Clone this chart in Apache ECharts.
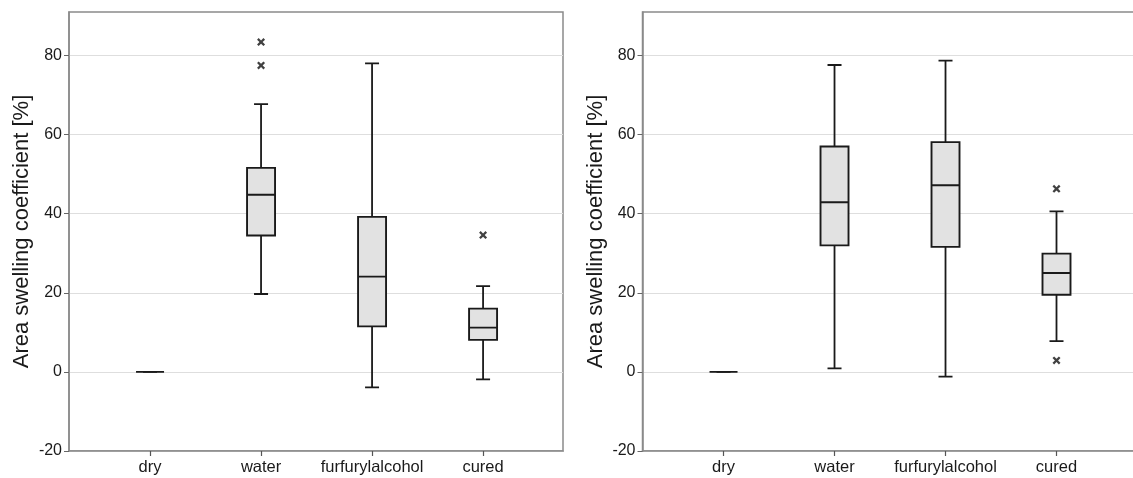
<!DOCTYPE html>
<html>
<head>
<meta charset="utf-8">
<script src="https://cdn.jsdelivr.net/npm/echarts@6/dist/echarts.min.js"></script>
<style>
html,body{margin:0;padding:0;background:#fff;overflow:hidden;}
#chart{width:1133px;height:478px;}
</style>
</head>
<body>
<div id="chart"></div>
<script>
// ---- data ----
const categories = ['dry', 'water', 'furfurylalcohol', 'cured'];
const yTicks = [-20, 0, 20, 40, 60, 80];
const yTitle = 'Area swelling coefficient [%]';

// left panel
const leftLow    = [0, 19.7, -3.9, -1.9];
const leftQ1     = [0, 34.5, 11.5, 8.1];
const leftMedian = [0, 44.8, 24.1, 11.2];
const leftQ3     = [0, 51.6, 39.2, 16.0];
const leftHigh   = [0, 67.7, 78.0, 21.7];
const leftOutlierCat = [1, 1, 3];
const leftOutlierVal = [83.4, 77.5, 34.6];

// right panel
const rightLow    = [0, 0.9, -1.2, 7.8];
const rightQ1     = [0, 32.0, 31.6, 19.5];
const rightMedian = [0, 42.9, 47.2, 25.0];
const rightQ3     = [0, 57.0, 58.1, 29.9];
const rightHigh   = [0, 77.6, 78.7, 40.6];
const rightOutlierCat = [3, 3];
const rightOutlierVal = [46.3, 2.9];

// ---- chart ----
const FONT = '"Liberation Sans", Arial, sans-serif';
const TEXT = '#1a1a1a';
const AXIS = '#8a8a8a';
const catIdx = categories.map((c, i) => i);
const xShape = 'path://M0,2 L2,0 L5,3 L8,0 L10,2 L7,5 L10,8 L8,10 L5,7 L2,10 L0,8 L3,5 Z';

function boxData(q1, med, q3) {
  return catIdx.map(i => [i, q1[i], q1[i], med[i], q3[i], q3[i]]);
}
function whiskerData(low, med, high) {
  return catIdx.map(i => [i, low[i], med[i], med[i], med[i], high[i]]);
}
function outlierData(cats, vals) {
  return cats.map((c, i) => [c, vals[i]]);
}

function mainX(gridIndex, max) {
  return {
    type: 'value', gridIndex, min: -0.73, max: max,
    splitLine: {show: false},
    axisLine: {show: true, onZero: false, lineStyle: {color: AXIS, width: 1.5}},
    axisTick: {show: true, customValues: catIdx, length: 5, lineStyle: {color: '#555', width: 1.2}},
    axisLabel: {customValues: catIdx, formatter: v => categories[Math.round(v)], fontSize: 16.5,
      fontFamily: FONT, color: TEXT, margin: 8}
  };
}
function hiddenX(gridIndex, max) {
  return {type: 'value', gridIndex, min: -0.73, max: max, show: false, splitLine: {show: false},
    axisLine: {onZero: false}};
}
function yAx(gridIndex) {
  return {
    type: 'value', gridIndex, min: -20, max: 91, interval: 20,
    axisLine: {show: true, onZero: false, lineStyle: {color: AXIS, width: 1.5}},
    axisTick: {show: true, customValues: yTicks, length: 5, lineStyle: {color: '#666', width: 1}},
    axisLabel: {customValues: yTicks, fontSize: 16, fontFamily: FONT, color: TEXT, margin: 7},
    splitLine: {show: true, lineStyle: {color: '#dedede', width: 1}},
    name: yTitle, nameLocation: 'middle', nameGap: 36,
    nameTextStyle: {fontSize: 22, fontFamily: FONT, color: TEXT}
  };
}

const boxStyle = {color: '#e2e2e2', borderColor: '#1a1a1a', borderWidth: 1.9};
function panelSeries(xMain, xHidden, yIdx, low, q1, med, q3, high, oc, ov) {
  return [
    {type: 'boxplot', xAxisIndex: xHidden, yAxisIndex: yIdx, z: 1, boxWidth: [14, 14],
      itemStyle: {color: '#ffffff', borderColor: '#1a1a1a', borderWidth: 1.8},
      emphasis: {disabled: true}, data: whiskerData(low, med, high)},
    {type: 'boxplot', xAxisIndex: xMain, yAxisIndex: yIdx, z: 3, boxWidth: [28, 28],
      itemStyle: boxStyle, emphasis: {disabled: true}, data: boxData(q1, med, q3)},
    {type: 'scatter', xAxisIndex: xMain, yAxisIndex: yIdx, z: 4, symbol: xShape, symbolSize: 8,
      itemStyle: {color: '#111'}, data: outlierData(oc, ov)}
  ];
}

// same x scale in both panels (~111 px per category); the right panel runs past the canvas edge
const leftMax = 3.72;
const rightMax = 3.955;

const chart = echarts.init(document.getElementById('chart'), null, {renderer: 'canvas'});
chart.setOption({
  animation: false,
  backgroundColor: '#ffffff',
  textStyle: {fontFamily: FONT},
  grid: [
    {left: 69, top: 12, width: 494, height: 439, show: true, borderColor: AXIS, borderWidth: 1.5,
      backgroundColor: 'transparent', outerBoundsMode: 'none', containLabel: false},
    {left: 642.5, top: 12, width: 520, height: 439, show: true, borderColor: AXIS, borderWidth: 1.5,
      backgroundColor: 'transparent', outerBoundsMode: 'none', containLabel: false}
  ],
  xAxis: [mainX(0, leftMax), hiddenX(0, leftMax), mainX(1, rightMax), hiddenX(1, rightMax)],
  yAxis: [yAx(0), yAx(1)],
  series: [
    ...panelSeries(0, 1, 0, leftLow, leftQ1, leftMedian, leftQ3, leftHigh, leftOutlierCat, leftOutlierVal),
    ...panelSeries(2, 3, 1, rightLow, rightQ1, rightMedian, rightQ3, rightHigh, rightOutlierCat, rightOutlierVal)
  ]
});
</script>
</body>
</html>
